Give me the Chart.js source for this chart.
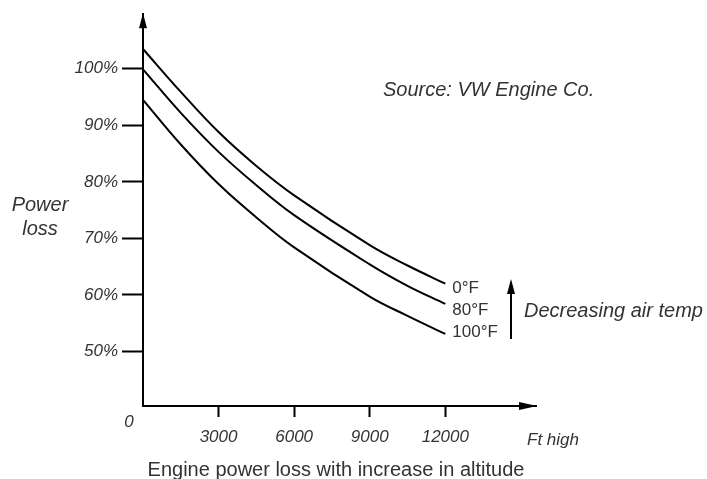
<!DOCTYPE html>
<html>
<head>
<meta charset="utf-8">
<script src="https://cdn.jsdelivr.net/npm/chart.js@4"></script>
<style>
  html, body { margin: 0; padding: 0; background: #fff; }
  #wrap { width: 707px; height: 479px; position: relative; }
</style>
</head>
<body>
<div id="wrap"><canvas id="c" width="707" height="479"></canvas></div>
<script>
// ---- data ----
const altitudes = [0, 1500, 3000, 4500, 6000, 9000, 10500, 12000];   // Ft high
const temp0F    = [103.5, 95.9, 88.8, 82.8, 77.6, 68.8, 65.2, 62.0];  // % power
const temp80F   = [99.9, 92.2, 85.3, 79.4, 74.1, 65.4, 61.6, 58.4];
const temp100F  = [94.5, 86.6, 79.6, 73.7, 68.4, 59.7, 56.3, 53.1];
const seriesNames = ['0°F', '80°F', '100°F'];
const xTickValues = [3000, 6000, 9000, 12000];
const yTickValues = [50, 60, 70, 80, 90, 100];

const FONT = '"Liberation Sans", Arial, Helvetica, sans-serif';

function toPoints(vals) { return altitudes.map((a, i) => ({ x: a, y: vals[i] })); }

const lineStyle = {
  borderColor: '#000', borderWidth: 2, pointRadius: 0, fill: false,
  cubicInterpolationMode: 'default', tension: 0.4, clip: false
};

const annotate = {
  id: 'annotate',
  afterDraw(chart) {
    const ctx = chart.ctx;
    const ca = chart.chartArea;
    const xs = chart.scales.x;
    ctx.save();
    ctx.fillStyle = '#000';
    // y-axis arrowhead
    ctx.beginPath();
    ctx.moveTo(ca.left, ca.top - 1);
    ctx.lineTo(ca.left - 4, ca.top + 14);
    ctx.lineTo(ca.left + 4, ca.top + 14);
    ctx.closePath(); ctx.fill();
    // x-axis arrowhead
    ctx.beginPath();
    ctx.moveTo(ca.right + 1, ca.bottom);
    ctx.lineTo(ca.right - 17, ca.bottom - 4);
    ctx.lineTo(ca.right - 17, ca.bottom + 4);
    ctx.closePath(); ctx.fill();

    ctx.fillStyle = '#333';
    ctx.textBaseline = 'middle';
    // origin label
    ctx.font = 'italic 17px ' + FONT;
    ctx.textAlign = 'center';
    ctx.fillText('0', ca.left - 14, ca.bottom + 16);
    // x unit
    ctx.textAlign = 'left';
    ctx.fillText('Ft high', 527, 440);
    // y title
    ctx.font = 'italic 20px ' + FONT;
    ctx.textAlign = 'center';
    ctx.fillText('Power', 40, 205);
    ctx.fillText('loss', 40, 229);
    // source
    ctx.textAlign = 'left';
    ctx.fillText('Source: VW Engine Co.', 383, 90);
    // series labels
    ctx.font = '17px ' + FONT;
    const lx = xs.getPixelForValue(altitudes[altitudes.length - 1]) + 7;
    const ly = [288, 310, 332];
    seriesNames.forEach((n, i) => ctx.fillText(n, lx, ly[i]));
    // decreasing temp arrow
    ctx.strokeStyle = '#000'; ctx.lineWidth = 2;
    ctx.beginPath(); ctx.moveTo(511, 339); ctx.lineTo(511, 292); ctx.stroke();
    ctx.fillStyle = '#000';
    ctx.beginPath();
    ctx.moveTo(511, 279); ctx.lineTo(507, 294); ctx.lineTo(515, 294);
    ctx.closePath(); ctx.fill();
    ctx.fillStyle = '#333';
    ctx.font = 'italic 20px ' + FONT;
    ctx.fillText('Decreasing air temp', 524, 311);
    // caption
    ctx.font = '20px ' + FONT;
    ctx.textAlign = 'center';
    ctx.fillText('Engine power loss with increase in altitude', 336, 470);
    ctx.restore();
  }
};

new Chart(document.getElementById('c'), {
  type: 'line',
  data: {
    datasets: [
      Object.assign({ label: seriesNames[0], data: toPoints(temp0F) }, lineStyle),
      Object.assign({ label: seriesNames[1], data: toPoints(temp80F) }, lineStyle),
      Object.assign({ label: seriesNames[2], data: toPoints(temp100F) }, lineStyle)
    ]
  },
  options: {
    responsive: false,
    animation: false,
    events: [],
    layout: { padding: { left: 0, right: 171, top: 13, bottom: 0 } },
    plugins: { legend: { display: false }, tooltip: { enabled: false }, title: { display: false } },
    scales: {
      x: {
        type: 'linear', min: 0, max: 15600,
        afterBuildTicks(s) { s.ticks = xTickValues.map(v => ({ value: v })); },
        afterFit(s) { s.height = 73; },
        border: { display: true, color: '#000', width: 2 },
        grid: { drawOnChartArea: false, drawTicks: true, tickLength: 11, tickWidth: 2, tickColor: '#000', color: '#000' },
        ticks: { color: '#333', padding: 10, maxRotation: 0, autoSkip: false,
                 font: { family: FONT, size: 17, style: 'italic' },
                 callback: v => String(v) }
      },
      y: {
        type: 'linear', min: 40.35, max: 109.65,
        afterBuildTicks(s) { s.ticks = yTickValues.map(v => ({ value: v })); },
        afterFit(s) { s.width = 143; },
        border: { display: true, color: '#000', width: 2 },
        grid: { drawOnChartArea: false, drawTicks: true, tickLength: 21, tickWidth: 2, tickColor: '#000', color: '#000' },
        ticks: { color: '#333', padding: 4, autoSkip: false,
                 font: { family: FONT, size: 17, style: 'italic' },
                 callback: v => v + '%' }
      }
    }
  },
  plugins: [annotate]
});
</script>
</body>
</html>
